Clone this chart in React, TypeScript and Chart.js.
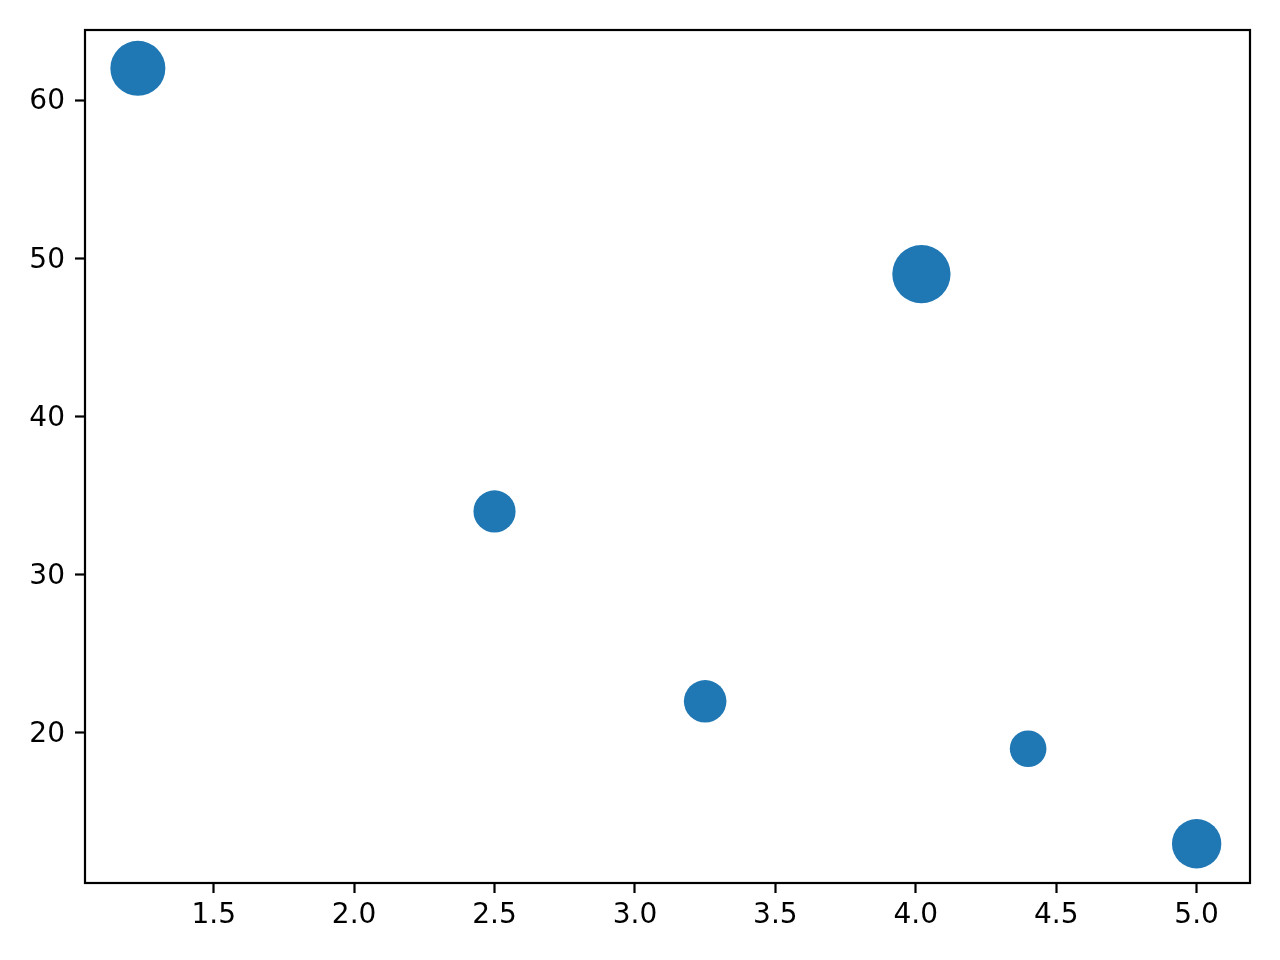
import React, { useEffect, useRef } from "react";
import { Chart, registerables } from "chart.js";

Chart.register(...registerables);

// Data
const xValues = [1.23, 2.5, 3.25, 4.02, 4.4, 5.0];
const yValues = [62, 34, 22, 49, 19, 13];
// marker sizes (matplotlib-style area, points^2)
const sizes = [392, 230, 235, 440, 174, 316];

const xTicks = [1.5, 2.0, 2.5, 3.0, 3.5, 4.0, 4.5, 5.0];
const yTicks = [20, 30, 40, 50, 60];

const COLOR = "#1f77b4";
const DPI_SCALE = 200 / 72;

const framePlugin = {
  id: "frame",
  afterDraw(chart: any) {
    const { ctx, chartArea } = chart;
    ctx.save();
    ctx.strokeStyle = "#000";
    ctx.lineWidth = 2.2;
    ctx.strokeRect(
      chartArea.left,
      chartArea.top,
      chartArea.right - chartArea.left,
      chartArea.bottom - chartArea.top
    );
    ctx.restore();
  },
};

export default function App() {
  const ref = useRef<HTMLCanvasElement | null>(null);

  useEffect(() => {
    if (!ref.current) return;
    const points = xValues.map((x, i) => ({ x, y: yValues[i] }));
    const radii = sizes.map((s) => (Math.sqrt(s) / 2) * DPI_SCALE);
    const font = { family: "DejaVu Sans", size: 28 };
    const chart = new Chart(ref.current, {
      type: "scatter",
      data: {
        datasets: [
          {
            data: points,
            backgroundColor: COLOR,
            borderWidth: 0,
            pointRadius: radii,
            pointHoverRadius: radii,
          },
        ],
      },
      options: {
        animation: false,
        responsive: false,
        events: [],
        layout: { padding: { top: 30, right: 30, left: 0, bottom: 0 } },
        plugins: { legend: { display: false }, tooltip: { enabled: false } },
        scales: {
          x: {
            type: "linear",
            min: 1.0418,
            max: 5.19,
            afterBuildTicks: (scale: any) => {
              scale.ticks = xTicks.map((v) => ({ value: v }));
            },
            afterFit: (scale: any) => {
              scale.height = 77;
            },
            grid: {
              display: true,
              drawOnChartArea: false,
              drawTicks: true,
              tickLength: 10,
              tickWidth: 2.2,
              tickColor: "#000",
            },
            border: { display: false },
            ticks: {
              color: "#000",
              font,
              padding: 6,
              maxRotation: 0,
              autoSkip: false,
              callback: (v: any) => Number(v).toFixed(1),
            },
          },
          y: {
            type: "linear",
            min: 10.517,
            max: 64.425,
            afterBuildTicks: (scale: any) => {
              scale.ticks = yTicks.map((v) => ({ value: v }));
            },
            afterFit: (scale: any) => {
              scale.width = 85;
            },
            grid: {
              display: true,
              drawOnChartArea: false,
              drawTicks: true,
              tickLength: 10,
              tickWidth: 2.2,
              tickColor: "#000",
            },
            border: { display: false },
            ticks: {
              color: "#000",
              font,
              padding: 10,
              labelOffset: 2,
              autoSkip: false,
              callback: (v: any) => String(v),
            },
          },
        },
      },
      plugins: [framePlugin],
    } as any);
    return () => chart.destroy();
  }, []);

  return (
    <div style={{ position: "absolute", left: 0, top: 0, width: 1280, height: 960, background: "#fff" }}>
      <canvas ref={ref} width={1280} height={960} style={{ width: 1280, height: 960, display: "block" }} />
    </div>
  );
}
